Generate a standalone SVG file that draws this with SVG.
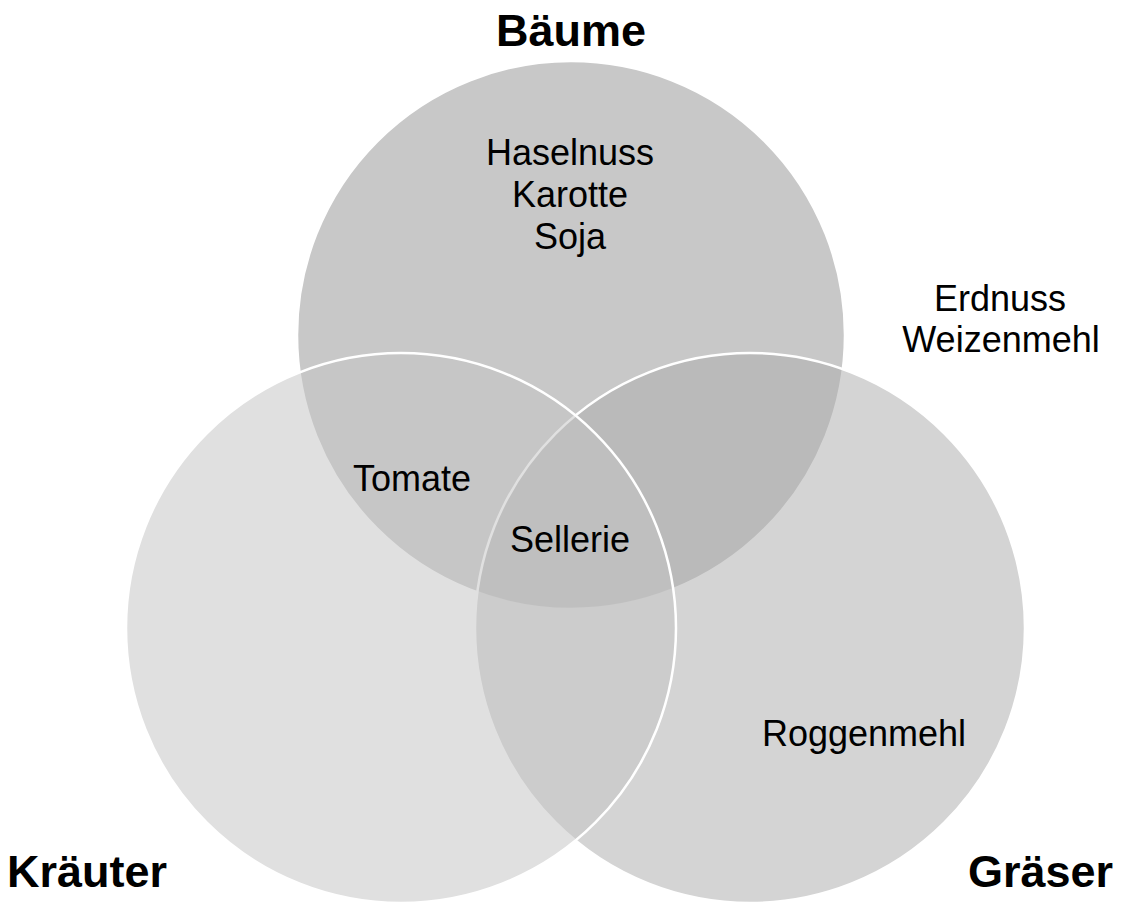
<svg xmlns="http://www.w3.org/2000/svg" width="1122" height="902" viewBox="0 0 1122 902">
<style>
.c{stroke:#ffffff;stroke-width:2.5}
.t{font-family:"Liberation Sans",Arial,sans-serif;font-size:36px;fill:#000;text-anchor:middle}
.h{font-family:"Liberation Sans",Arial,sans-serif;font-size:45px;font-weight:bold;fill:#000}
</style>
<rect width="1122" height="902" fill="#ffffff"/>
<g id="baeume">
<circle class="c" cx="571" cy="335" r="274" fill="#c8c8c8" stroke="none"/>
</g>
<g id="graeser">
<circle class="c" cx="750" cy="628" r="275" fill="#adadad" fill-opacity="0.53"/>
</g>
<g id="kraeuter">
<circle class="c" cx="401" cy="628" r="275" fill="#c4c4c4" fill-opacity="0.53"/>
</g>
<g id="connectors"></g>
<g id="labels">
<text class="h" x="571" y="46" text-anchor="middle">Bäume</text>
<text class="h" x="7" y="887">Kräuter</text>
<text class="h" x="1113" y="887" text-anchor="end">Gräser</text>
<text class="t" x="570" y="165">Haselnuss</text>
<text class="t" x="570" y="207">Karotte</text>
<text class="t" x="570" y="249">Soja</text>
<text class="t" x="1000" y="311">Erdnuss</text>
<text class="t" x="1001" y="352">Weizenmehl</text>
<text class="t" x="412" y="491">Tomate</text>
<text class="t" x="570" y="552">Sellerie</text>
<text class="t" x="864" y="746">Roggenmehl</text>
</g>
</svg>
